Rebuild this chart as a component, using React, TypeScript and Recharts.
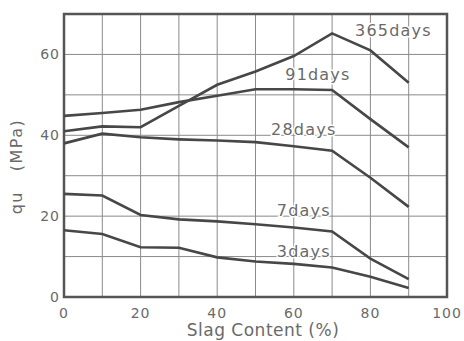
import {
  CartesianGrid,
  Line,
  LineChart,
  ReferenceArea,
  ReferenceDot,
  XAxis,
  YAxis,
} from "recharts";

const slag = [0, 10, 20, 30, 40, 50, 60, 70, 80, 90];
const days3 = [16.5, 15.6, 12.3, 12.2, 9.8, 8.8, 8.2, 7.3, 5.0, 2.2];
const days7 = [25.5, 25.1, 20.3, 19.2, 18.7, 18.0, 17.2, 16.2, 9.5, 4.4];
const days28 = [38.0, 40.4, 39.5, 39.0, 38.7, 38.3, 37.3, 36.2, 29.5, 22.3];
const days91 = [44.8, 45.5, 46.3, 48.2, 49.8, 51.4, 51.4, 51.2, 44.0, 37.0];
const days365 = [41.0, 42.2, 42.0, 47.3, 52.5, 55.8, 59.6, 65.2, 61.0, 53.0];

const xTicks = [0, 10, 20, 30, 40, 50, 60, 70, 80, 90, 100];
const yTicks = [0, 10, 20, 30, 40, 50, 60, 70];

const seriesNames = ["3days", "7days", "28days", "91days", "365days"];

const data = slag.map((s, i) => ({
  slag: s,
  "3days": days3[i],
  "7days": days7[i],
  "28days": days28[i],
  "91days": days91[i],
  "365days": days365[i],
}));

const INK = "#474747";
const GRID = "#8a8a8a";
const TEXT = "#6a6a6a";
const FONT = "'DejaVu Sans', sans-serif";

// where each curve name sits, in data units (text baseline)
const labelSpots: Record<string, [number, number]> = {
  "365days": [86, 64.6],
  "91days": [66.3, 53.7],
  "28days": [62.6, 40.1],
  "7days": [62.6, 20.0],
  "3days": [62.6, 9.9],
};

const CurveName = (name: string) => (props: any) => (
  <text
    x={props.cx}
    y={props.cy}
    textAnchor="middle"
    fontFamily={FONT}
    fontSize={16}
    letterSpacing={1.2}
    fill={TEXT}
    stroke="#fff"
    strokeWidth={3}
    style={{ paintOrder: "stroke" }}
  >
    {name}
  </text>
);

export default function App() {
  return (
    <div style={{ position: "absolute", left: 0, top: 0, background: "#fff" }}>
      <LineChart
        width={464}
        height={341}
        data={data}
        margin={{ top: 14, right: 17, bottom: 0, left: 0 }}
      >
        <CartesianGrid stroke={GRID} strokeWidth={1} />
        <XAxis
          dataKey="slag"
          type="number"
          domain={[0, 100]}
          ticks={xTicks}
          tickFormatter={(v) => (v % 20 === 0 ? String(v) : "")}
          axisLine={false}
          tickLine={false}
          tickSize={0}
          tickMargin={11}
          height={44}
          tick={{ fill: TEXT, fontSize: 14, fontFamily: FONT, letterSpacing: 1 }}
          label={{
            content: ({ viewBox }: any) => (
              <text
                x={viewBox.x + viewBox.width / 2 + 7.5}
                y={viewBox.y + 39}
                textAnchor="middle"
                fontFamily={FONT}
                fontSize={17}
                letterSpacing={0.5}
                fill={TEXT}
              >
                Slag Content (%)
              </text>
            ),
          }}
        />
        <YAxis
          type="number"
          domain={[0, 70]}
          ticks={yTicks}
          tickFormatter={(v) => (v % 20 === 0 ? String(v) : "")}
          axisLine={false}
          tickLine={false}
          tickSize={0}
          tickMargin={4}
          width={64}
          tick={{ fill: TEXT, fontSize: 14, fontFamily: FONT, letterSpacing: 1 }}
          label={{
            content: ({ viewBox }: any) => {
              const cx = viewBox.x + 21.5;
              const cy = viewBox.y + viewBox.height / 2 + 11;
              return (
                <text
                  x={cx}
                  y={cy}
                  transform={`rotate(-90 ${cx} ${cy})`}
                  textAnchor="middle"
                  fontFamily={FONT}
                  fontSize={16}
                  letterSpacing={1.5}
                  fill={TEXT}
                  style={{ whiteSpace: "pre" }}
                >
                  {"qu   (MPa)"}
                </text>
              );
            },
          }}
        />
        <ReferenceArea
          x1={0}
          x2={100}
          y1={0}
          y2={70}
          fill="none"
          stroke="#555"
          strokeWidth={2.5}
          ifOverflow="visible"
        />
        {seriesNames.map((name) => (
          <Line
            key={name}
            dataKey={name}
            type="linear"
            stroke={INK}
            strokeWidth={2.6}
            dot={false}
            activeDot={false}
            isAnimationActive={false}
          />
        ))}
        {seriesNames.map((name) => (
          <ReferenceDot
            key={"lbl" + name}
            x={labelSpots[name][0]}
            y={labelSpots[name][1]}
            r={0}
            shape={CurveName(name)}
          />
        ))}
      </LineChart>
    </div>
  );
}
